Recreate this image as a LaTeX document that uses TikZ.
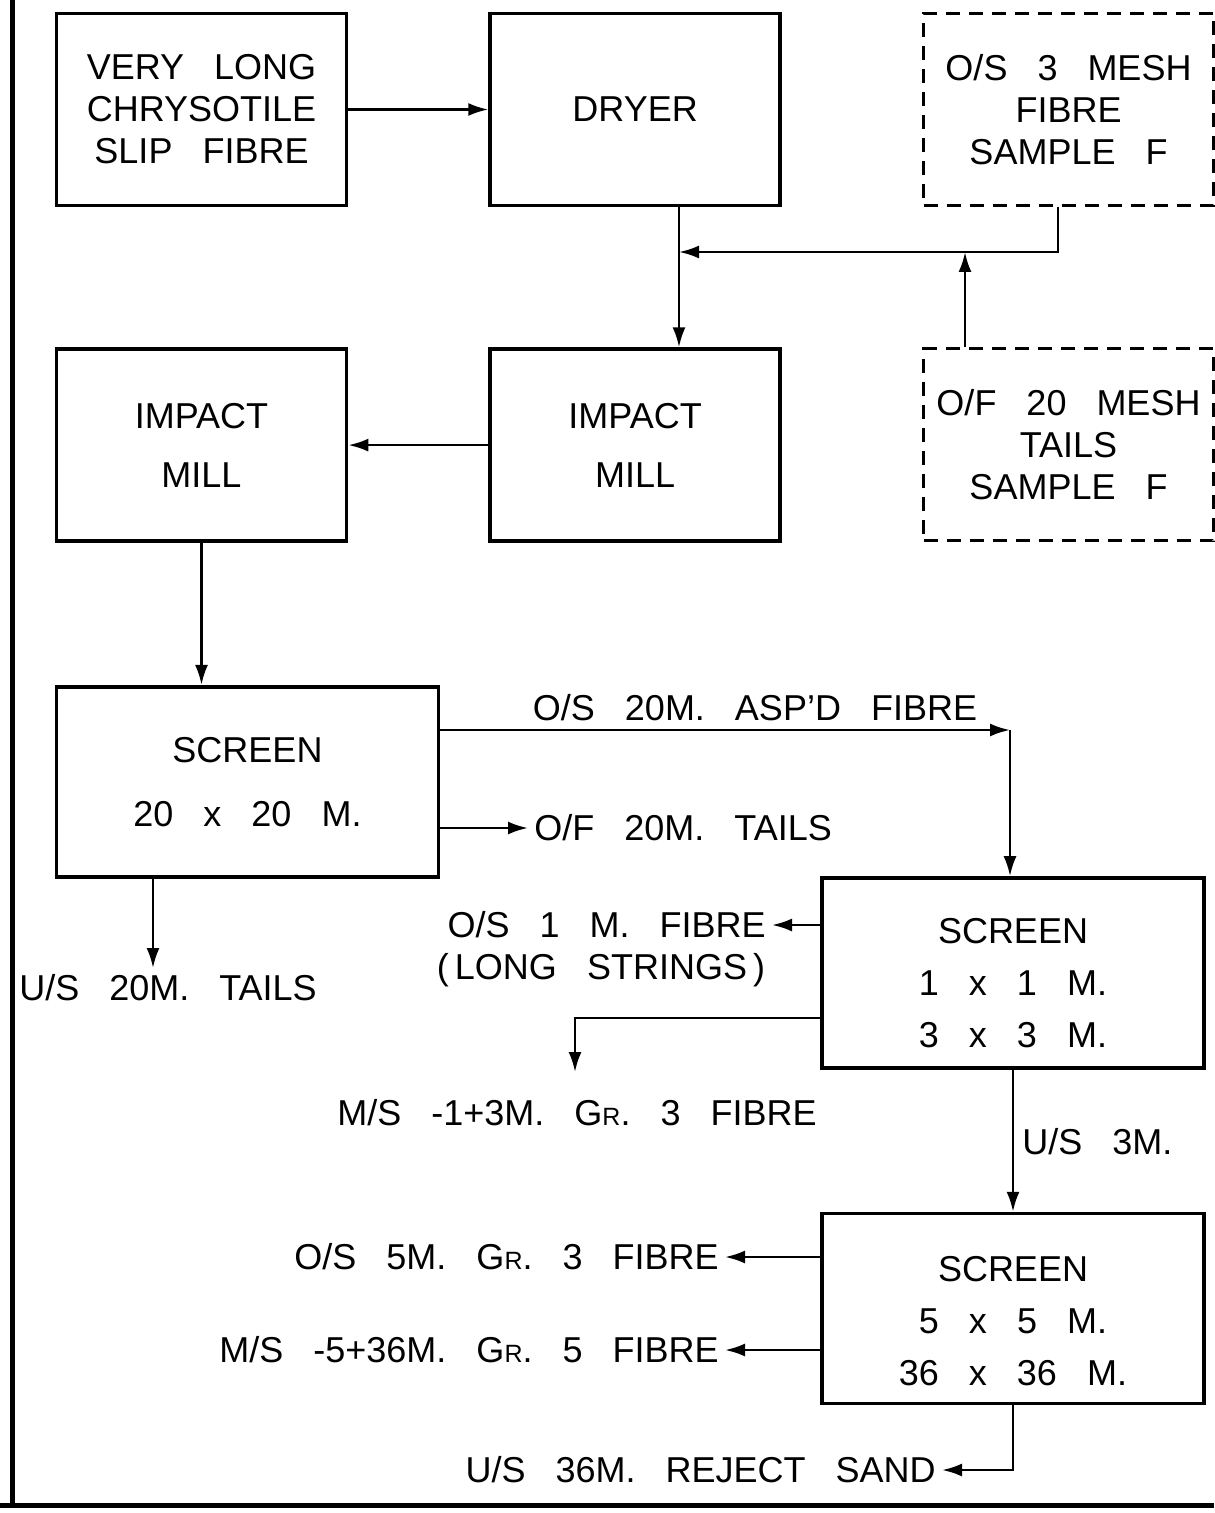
\documentclass[tikz,border=0pt]{standalone}
\usepackage{fontspec}
\setmainfont{Liberation Sans}[WordSpace=3]
\usetikzlibrary{arrows.meta, positioning}
\newcommand{\grd}{G{\fontsize{12.5}{14}\selectfont R}.}

\begin{document}
\begin{tikzpicture}[
    x=0.5pt, y=-0.5pt,
    box/.style={rectangle, draw, line width=1.8pt, minimum width=145pt, minimum height=96pt, align=center, inner sep=1pt, font=\fontsize{18}{21}\selectfont},
    sample/.style={box, dash pattern=on 7pt off 4.5pt, line width=1.6pt},
    screen/.style={box, minimum width=191pt, minimum height=95pt},
    lbl/.style={inner sep=3pt, font=\fontsize{18}{21}\selectfont},
    arrow/.style={-{Latex[length=10pt, width=6.5pt]}, line width=1.3pt},
    node distance=70pt
]
    \useasboundingbox (0,0) rectangle (1214,1513);

    % frame
    \draw[line width=2.5pt] (12,0) -- (12,1505);
    \draw[line width=2.5pt] (0,1505) -- (1214,1505);

    % top rows
    \node[box] (vlong) at (201.5,109.5) {VERY LONG\\CHRYSOTILE\\SLIP FIBRE};
    \node[box, right=of vlong] (dryer) {DRYER};
    \node[sample, right=of dryer] (fibreF) {O/S 3 MESH\\FIBRE\\SAMPLE F};
    \node[box, below=of dryer] (millB) {IMPACT\\[8.5pt]MILL};
    \node[box, left=of millB] (millA) {IMPACT\\[8.5pt]MILL};
    \node[sample, below=of fibreF] (tailsF) {O/F 20 MESH\\TAILS\\SAMPLE F};

    % screens
    \node[screen, below=71pt of millA.south west, anchor=north west] (scrA) {SCREEN\\[11pt]20 x 20 M.};
    \node[screen] (scrB) at (1013,973) {\rule{0pt}{23pt}SCREEN\\[5pt]1 x 1 M.\\[5pt]3 x 3 M.};
    \node[screen, below=71pt of scrB] (scrC) {\rule{0pt}{25pt}SCREEN\\[5pt]5 x 5 M.\\[5pt]36 x 36 M.};

    % products
    \node[lbl] (aspd) at (755,708) {O/S 20M. ASP’D FIBRE};
    \node[lbl, anchor=west] (ofT) at (528,828) {O/F 20M. TAILS};
    \node[lbl] (usT) at (168,988) {U/S 20M. TAILS};
    \node[lbl, anchor=east] (os1) at (772,925) {O/S 1 M. FIBRE};
    \node[lbl] (strings) at (601,970) {(\,LONG STRINGS\,)};
    \node[lbl] (ms3) at (577,1113) {M/S -1+3M. \grd{} 3 FIBRE};
    \node[lbl, anchor=west] (us3) at (1016,1142) {U/S 3M.};
    \node[lbl, anchor=east] (os5) at (725,1257) {O/S 5M. \grd{} 3 FIBRE};
    \node[lbl, anchor=east] (ms5) at (725,1350) {M/S -5+36M. \grd{} 5 FIBRE};
    \node[lbl, anchor=east] (rej) at (942,1470) {U/S 36M. REJECT SAND};

    \coordinate (jn) at (679,252);
    \coordinate (fs) at (1058,252);
    \coordinate (up) at (965,252);
    \coordinate (c1) at (1010,730);
    \coordinate (c2) at (153,968);
    \coordinate (c3) at (575,1072);

    % arrows
    \draw[arrow] (vlong) -- (dryer);
    \draw[arrow] (dryer.south -| jn) -- (millB.north -| jn);
    \draw[arrow] (fibreF.south -| fs) |- (jn);
    \draw[arrow] (tailsF.north -| up) -- (up);
    \draw[arrow] (millB) -- (millA);
    \draw[arrow] (millA) -- (scrA.north -| millA);

    \draw[arrow] (scrA.east |- c1) -- (c1);
    \draw[arrow] (c1) -- (scrB.north -| c1);
    \draw[arrow] (scrA.east |- ofT) -- (ofT.west);
    \draw[arrow] (scrA.south -| c2) -- (c2);

    \draw[arrow] (scrB.west |- os1) -- (os1.east);
    \draw[arrow] ([yshift=-22.5pt]scrB.west) -| (c3);
    \draw[arrow] (scrB) -- (scrC);

    \draw[arrow] (scrC.west |- os5) -- (os5.east);
    \draw[arrow] (scrC.west |- ms5) -- (ms5.east);
    \draw[arrow] (scrC.south) |- (rej.east);
\end{tikzpicture}
\end{document}
